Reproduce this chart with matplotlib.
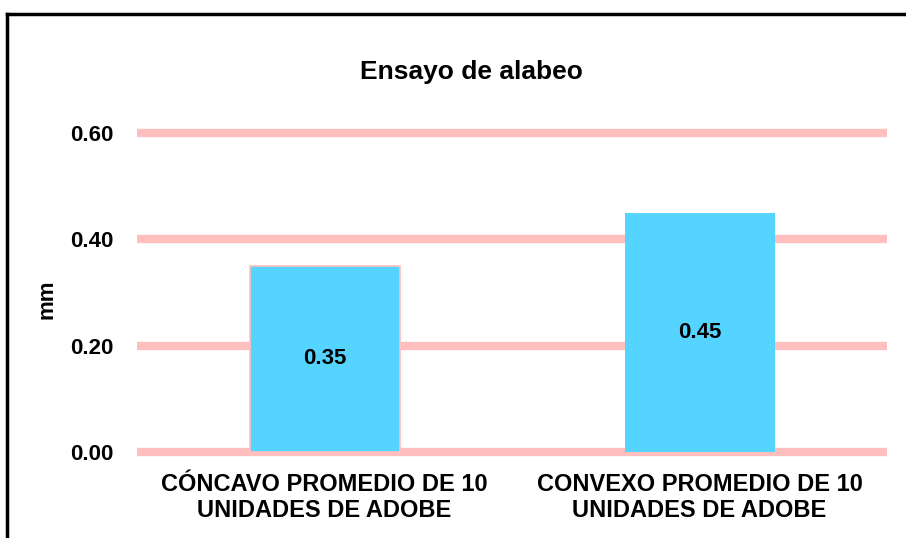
import matplotlib
matplotlib.use("Agg")
import matplotlib.pyplot as plt
from matplotlib.lines import Line2D

categories = ["CÓNCAVO PROMEDIO DE 10\nUNIDADES DE ADOBE", "CONVEXO PROMEDIO DE 10\nUNIDADES DE ADOBE"]
values = [0.35, 0.45]
value_labels = ["0.35", "0.45"]
yticks = [0.0, 0.2, 0.4, 0.6]
ytick_labels = ["0.00", "0.20", "0.40", "0.60"]

plt.rcParams['font.family'] = ['Liberation Sans', 'DejaVu Sans']
plt.rcParams['font.weight'] = 'bold'

W, H = 906, 538
fig = plt.figure(figsize=(W/100, H/100), dpi=100)
ymin, ymax = -0.01, 0.61
ppu = (452-133)/0.6
top_px = 133 - (ymax-0.6)*ppu
bot_px = 452 + (0-ymin)*ppu
ax = fig.add_axes([137/W, 1-bot_px/H, 750/W, (bot_px-top_px)/H])
ax.set_ylim(ymin, ymax)
ax.set_xlim(0, 2)

for y in yticks:
    ax.axhline(y, color='#FFBFBF', linewidth=6, zorder=1)

xs = [0.5, 1.5]
bars = ax.bar(xs, values, width=0.40, color='#55D4FF', zorder=2)
bars[0].set_edgecolor('#FFBFBF')
bars[0].set_linewidth(1.2)
for x, v, lab in zip(xs, values, value_labels):
    ax.text(x, v/2, lab, ha='center', va='center', fontsize=16, fontweight='bold', zorder=3)

ax.set_yticks(yticks)
ax.set_yticklabels(ytick_labels, fontsize=16, fontweight='bold')
ax.set_xticks(xs)
ax.set_xticklabels(categories, fontsize=17, fontweight='bold', linespacing=1.2)
ax.tick_params(axis='y', length=0, pad=17)
ax.tick_params(axis='x', length=0, pad=11)
for s in ax.spines.values():
    s.set_visible(False)

ax.set_ylabel("mm", fontsize=16, fontweight='bold')
ax.yaxis.set_label_coords((58-137)/750, (bot_px-299)/(bot_px-top_px))

fig.text(471/W, 1-79/H, "Ensayo de alabeo", ha='center', va='baseline', fontsize=19, fontweight='bold')

fig.add_artist(Line2D([7/W, 1.01], [1-14/H, 1-14/H], color='black', linewidth=2.5, transform=fig.transFigure))
fig.add_artist(Line2D([7/W, 7/W], [1-14/H, -0.01], color='black', linewidth=2.5, transform=fig.transFigure))

fig.savefig("out.png", dpi=100)
